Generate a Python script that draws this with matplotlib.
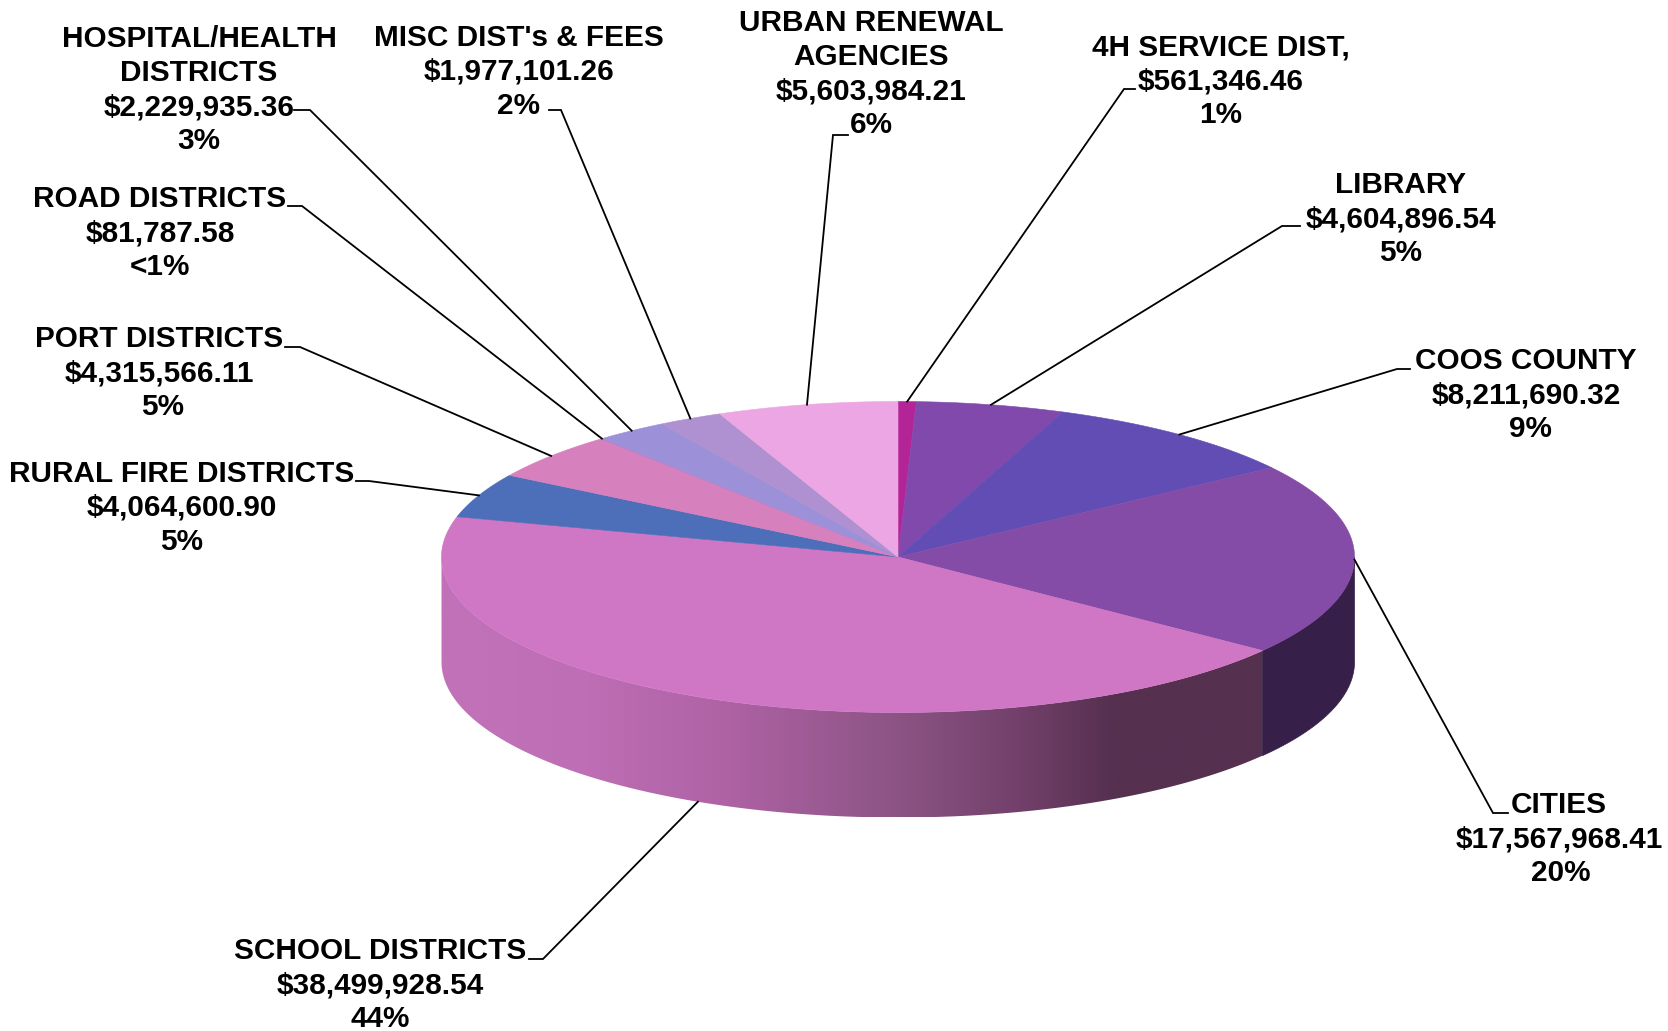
import numpy as np
import matplotlib.pyplot as plt
from matplotlib.colors import LinearSegmentedColormap
from matplotlib.patches import Polygon

# Data, clockwise from the top of the pie
names = [["4H SERVICE DIST,"], ["LIBRARY"], ["COOS COUNTY"], ["CITIES"], ["SCHOOL DISTRICTS"],
         ["RURAL FIRE DISTRICTS"], ["PORT DISTRICTS"], ["ROAD DISTRICTS"],
         ["HOSPITAL/HEALTH", "DISTRICTS"], ["MISC DIST's & FEES"], ["URBAN RENEWAL", "AGENCIES"]]
values = [561346.46, 4604896.54, 8211690.32, 17567968.41, 38499928.54,
          4064600.90, 4315566.11, 81787.58, 2229935.36, 1977101.26, 5603984.21]
percents = ["1%", "5%", "9%", "20%", "44%", "5%", "5%", "<1%", "3%", "2%", "6%"]

colors = ["#B32596", "#8249AC", "#614DB4", "#844CA6", "#CF76C5", "#4D6EB8",
          "#D780BE", "#B080C8", "#9C90D8", "#AF90D0", "#ECA6E4"]

# Layout, in pixels of the 1668x1031 picture
CX, CY, RX, RY, DEPTH = 898, 557, 456.5, 155.5, 105
FONT_PT = 21.4
LINE_H = 34
label_x = [1221, 1401, 1526, 1559, 380, 182, 159, 160, 199, 519, 871]
label_y = [55, 193, 369, 813, 959, 482, 347, 207, 47, 46, 31]
percent_dx = [0, 0, 4, 2, 0, 0, 4, 0, 0, 0, 0]
# where the leader leaves the text: first point, elbow
leader_start = [(1135, 89), (1300, 226), (1410, 369), (1508, 813), (529, 959),
                (356, 481), (285, 347), (288, 206), (294, 110), (549, 110), (848, 135)]
leader_elbow = [(1124, 89), (1282, 226), (1397, 369), (1493, 813), (543, 959),
                (369, 481), (300, 347), (302, 206), (310, 110), (561, 110), (833, 135)]
# side shading of the big slice, by position across the pie
side_stops = [(0.0, "#C272B8"), (0.18, "#BE6EB4"), (0.35, "#AE62A4"), (0.555, "#8C5484"),
              (0.72, "#6F3E68"), (0.82, "#55304F"), (1.0, "#55304F")]


def ellipse(theta, drop=0):
    # theta is clockwise from the top, in degrees
    t = np.radians(theta)
    return np.column_stack([CX + RX * np.sin(t), CY - RY * np.cos(t) + drop])


fig = plt.figure(figsize=(16.68, 10.31), dpi=100)
ax = fig.add_axes([0, 0, 1, 1])
vals = np.array(values)
edges = np.concatenate([[0], np.cumsum(vals)]) / vals.sum() * 360
mids = (edges[:-1] + edges[1:]) / 2

# Visible side: only the front half of the rim
for i, col in enumerate(colors):
    a0, a1 = max(edges[i], 90), min(edges[i + 1], 270)
    if a1 <= a0:
        continue
    th = np.linspace(a0, a1, 200)
    pts = np.vstack([ellipse(th), ellipse(th[::-1], DEPTH)])
    if i == 3:
        ax.add_patch(Polygon(pts, closed=True, fc="#36204A", ec="#36204A", lw=0.5))
    else:
        patch = Polygon(pts, closed=True, fc="none", ec="none")
        ax.add_patch(patch)
        cmap = LinearSegmentedColormap.from_list("side", side_stops)
        im = ax.imshow(np.linspace(0, 1, 600)[None, :], cmap=cmap, aspect="auto",
                       extent=(pts[:, 0].min(), pts[:, 0].max(), pts[:, 1].max(), pts[:, 1].min()))
        im.set_clip_path(patch)

# Top face
for i, col in enumerate(colors):
    th = np.linspace(edges[i], edges[i + 1], max(int(edges[i + 1] - edges[i]) * 3, 3))
    pts = np.vstack([[CX, CY], ellipse(th)])
    ax.add_patch(Polygon(pts, closed=True, fc=col, ec=col, lw=0.4))

# Leader lines and labels
for i in range(len(values)):
    end = ellipse(mids[i], DEPTH if i == 4 else 0)[0]
    sx, sy = leader_start[i]
    ex, ey = leader_elbow[i]
    ax.plot([sx, ex, end[0]], [sy, ey, end[1]], color="black", lw=1.3, solid_joinstyle="miter")
    lines = names[i] + [f"${values[i]:,.2f}", percents[i]]
    for j, line in enumerate(lines):
        dx = percent_dx[i] if j == len(lines) - 1 else 0
        ax.text(label_x[i] + dx, label_y[i] + j * LINE_H, line, ha="center", va="baseline",
                fontsize=FONT_PT, fontweight="bold", family="Liberation Sans", color="black")

ax.set_xlim(0, 1668)
ax.set_ylim(1031, 0)
ax.axis("off")
fig.savefig("out.png", dpi=100, facecolor="white")
